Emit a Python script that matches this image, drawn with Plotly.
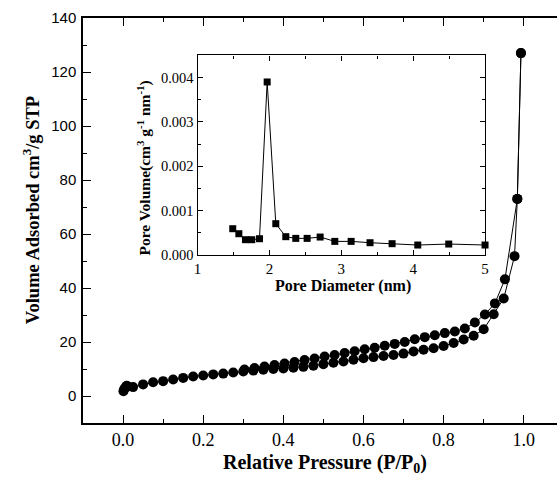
import plotly.graph_objects as go

# Main isotherm: adsorption branch
ads_p = [0.001, 0.003, 0.006, 0.009, 0.012, 0.025, 0.05, 0.075, 0.10, 0.125, 0.15, 0.175, 0.20,
         0.225, 0.25, 0.275, 0.30, 0.325, 0.35, 0.375, 0.40, 0.425, 0.45, 0.475, 0.50, 0.525,
         0.55, 0.575, 0.60, 0.625, 0.65, 0.675, 0.70, 0.725, 0.75, 0.775, 0.80, 0.825, 0.85,
         0.875, 0.90, 0.925, 0.95, 0.977, 0.984, 0.993]
ads_v = [1.8, 2.6, 3.2, 3.8, 3.5, 3.3, 4.3, 5.1, 5.5, 6.1, 6.7, 7.2, 7.6,
         8.0, 8.3, 8.7, 9.1, 9.4, 9.7, 10.0, 10.2, 10.5, 10.8, 11.2, 11.8, 12.3,
         12.8, 13.4, 14.0, 14.4, 14.8, 15.2, 15.7, 16.5, 17.1, 17.7, 18.5, 19.6, 20.9,
         22.3, 24.7, 30.3, 36.1, 51.8, 73.0, 127.0]

# Desorption branch
des_p = [0.993, 0.984, 0.953, 0.928, 0.903, 0.878, 0.853, 0.828, 0.803, 0.778, 0.753, 0.728,
         0.703, 0.678, 0.653, 0.628, 0.603, 0.578, 0.553, 0.528, 0.503, 0.478, 0.453, 0.428,
         0.403, 0.378, 0.353, 0.328, 0.303]
des_v = [127.0, 73.0, 43.2, 34.3, 30.2, 27.2, 25.0, 23.9, 23.3, 22.5, 21.8, 21.0,
         20.0, 19.3, 18.6, 17.9, 17.3, 16.6, 15.9, 15.2, 14.6, 13.9, 13.3, 12.6,
         12.0, 11.5, 10.9, 10.4, 9.8]

# Inset: pore size distribution
pore_d = [1.49, 1.575, 1.667, 1.755, 1.862, 1.969, 2.089, 2.228, 2.367, 2.525, 2.706, 2.91,
          3.137, 3.40, 3.707, 4.064, 4.495, 5.0]
pore_v = [0.000594, 0.000481, 0.000346, 0.000346, 0.000368, 0.003902, 0.000707, 0.000414,
          0.000376, 0.000376, 0.000406, 0.000308, 0.000308, 0.000278, 0.000256, 0.000226,
          0.000248, 0.000226]

serif = "Liberation Serif, Times New Roman, serif"
sans = "Liberation Sans, Arial, sans-serif"

fig = go.Figure()
fig.add_trace(go.Scatter(x=ads_p, y=ads_v, mode="lines+markers",
                         line=dict(color="black", width=1),
                         marker=dict(symbol="circle", size=10, color="black"),
                         xaxis="x", yaxis="y", showlegend=False))
fig.add_trace(go.Scatter(x=des_p, y=des_v, mode="lines+markers",
                         line=dict(color="black", width=1),
                         marker=dict(symbol="circle", size=10, color="black"),
                         xaxis="x", yaxis="y", showlegend=False))
fig.add_trace(go.Scatter(x=pore_d, y=pore_v, mode="lines+markers",
                         line=dict(color="black", width=1),
                         marker=dict(symbol="square", size=7, color="black"),
                         xaxis="x2", yaxis="y2", showlegend=False, cliponaxis=False))

fig.update_layout(
    width=557, height=477,
    margin=dict(l=83, r=0, t=18, b=54, autoexpand=False),
    paper_bgcolor="white", plot_bgcolor="white",
    xaxis=dict(range=[-0.1, 1.083], domain=[0, 1], tickmode="array", automargin=False,
               tickvals=[0.0, 0.2, 0.4, 0.6, 0.8, 1.0],
               ticktext=["0.0", "0.2", "0.4", "0.6", "0.8", "1.0"],
               ticks="inside", ticklen=8, tickwidth=1.2, tickcolor="black",
               minor=dict(dtick=0.1, tick0=0, ticks="inside", ticklen=4, tickcolor="black"),
               showline=True, linecolor="black", linewidth=1.5, mirror="ticks",
               showgrid=False, zeroline=False,
               tickfont=dict(family=serif, size=18, color="black")),
    yaxis=dict(range=[-10, 140], domain=[0, 1], tickmode="array", automargin=False,
               tickvals=[0, 20, 40, 60, 80, 100, 120, 140],
               ticks="inside", ticklen=8, tickwidth=1.2, tickcolor="black",
               minor=dict(dtick=10, tick0=0, ticks="inside", ticklen=4, tickcolor="black"),
               showline=True, linecolor="black", linewidth=1.5, mirror=False,
               showgrid=False, zeroline=False, ticklabelstandoff=2,
               tickfont=dict(family=sans, size=15, color="black")),
    xaxis2=dict(range=[1, 5], domain=[0.2416, 0.8482], anchor="y2", automargin=False,
                tickvals=[1, 2, 3, 4, 5], ticks="inside", ticklen=5, tickcolor="black",
                minor=dict(dtick=0.5, tick0=1, ticks="inside", ticklen=3, tickcolor="black"),
                showline=True, linecolor="black", linewidth=1.2, mirror="ticks",
                showgrid=False, zeroline=False,
                tickfont=dict(family=serif, size=15, color="black")),
    yaxis2=dict(range=[0, 0.0045], domain=[0.4147, 0.9075], anchor="x2", automargin=False,
                tickvals=[0, 0.001, 0.002, 0.003, 0.004],
                ticktext=["0.000", "0.001", "0.002", "0.003", "0.004"],
                ticks="inside", ticklen=5, tickcolor="black",
                minor=dict(dtick=0.0005, tick0=0, ticks="inside", ticklen=3, tickcolor="black"),
                showline=True, linecolor="black", linewidth=1.2, mirror="ticks",
                showgrid=False, zeroline=False,
                tickfont=dict(family=serif, size=14.5, color="black")),
    annotations=[
        dict(text="<b>Relative Pressure (P/P<sub>0</sub>)</b>", xref="paper", yref="paper",
             x=0.51, y=-0.1, xanchor="center", yanchor="middle", showarrow=False,
             font=dict(family=serif, size=20, color="black")),
        dict(text="<b>Volume Adsorbed cm<sup>3</sup>/g STP</b>", xref="paper", yref="paper",
             x=-0.108, y=0.525, xanchor="center", yanchor="middle", showarrow=False, textangle=-90,
             font=dict(family=serif, size=18.5, color="black")),
        dict(text="<b>Pore Diameter (nm)</b>", xref="paper", yref="paper",
             x=0.549, y=0.339, xanchor="center", yanchor="middle", showarrow=False,
             font=dict(family=serif, size=16, color="black")),
        dict(text="<b>Pore Volume(cm<sup>3</sup> g<sup>-1</sup> nm<sup>-1</sup>)</b>",
             xref="paper", yref="paper",
             x=0.13, y=0.63, xanchor="center", yanchor="middle", showarrow=False, textangle=-90,
             font=dict(family=serif, size=15.5, color="black")),
    ],
)

# remove the default page margin so the 557x477 figure fills the window exactly
fig.write_html("out.html", config={"displayModeBar": False},
               post_script="document.body.style.margin='0';document.body.style.overflow='hidden';")
